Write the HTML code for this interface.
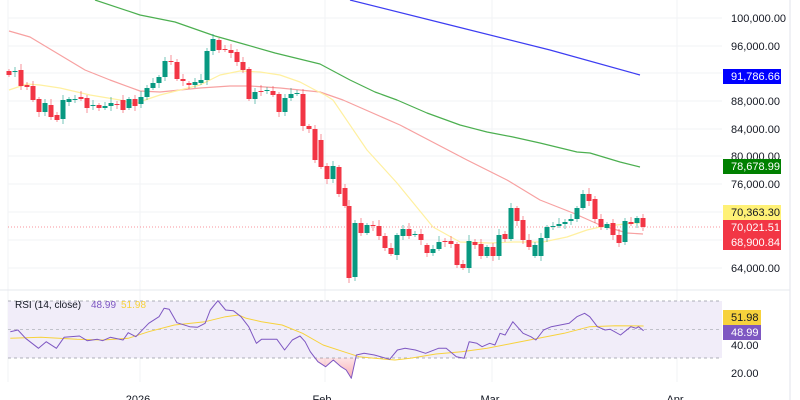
<!DOCTYPE html>
<html><head><meta charset="utf-8"><style>
html,body{margin:0;padding:0;background:#fff;width:800px;height:400px;overflow:hidden}
svg{display:block;font-family:"Liberation Sans",sans-serif}
</style></head><body>
<svg id="s" width="800" height="400" xmlns="http://www.w3.org/2000/svg"></svg>
<script>
const S=document.getElementById('s');let h='';
[18,46,73,101,129,156,184,212,240,268].forEach(y=>h+=`<line x1="8" y1="${y}" x2="722" y2="${y}" stroke="#f2f3f6"/>`);
[8,140,325,492,677].forEach(x=>h+=`<line x1="${x}" y1="0" x2="${x}" y2="382" stroke="#f2f3f6"/>`);
h+=`<line x1="790" y1="0" x2="790" y2="400" stroke="#e0e3eb"/>`;
h+=`<line x1="0" y1="290" x2="790" y2="290" stroke="#e6e8ee"/>`;
h+=`<rect x="8" y="301" width="714" height="57" fill="#f1edf9"/>`;
h+=`<line x1="8" y1="301" x2="722" y2="301" stroke="#9598a1" stroke-dasharray="3,3" stroke-width="0.8"/>`;
h+=`<line x1="8" y1="329.5" x2="722" y2="329.5" stroke="#b0b3bb" stroke-dasharray="3,3" stroke-width="0.8"/>`;
h+=`<line x1="8" y1="358" x2="722" y2="358" stroke="#9598a1" stroke-dasharray="3,3" stroke-width="0.8"/>`;
h+=`<line x1="8" y1="227" x2="722" y2="227" stroke="#f23645" stroke-dasharray="1,2" stroke-width="0.8" opacity="0.7"/>`;
function pl(pts,col,w){return `<polyline fill="none" stroke="${col}" stroke-width="${w||1.2}" stroke-linejoin="round" points="${pts.map(p=>p.join(',')).join(' ')}"/>`}
h+=pl([[350,0],[450,25],[550,50],[640,75]],'#3d3df2');
h+=pl([[95,0],[140,15],[175,22],[215,36],[240,43],[275,53],[320,64],[350,80],[375,92],[397,100],[427,113],[460,125],[487,132],[513,137],[540,143],[577,152],[590,153],[620,162],[640,167]],'#4caf50');
h+=pl([[9,31],[30,37],[60,55],[85,70],[110,80],[140,91],[160,92],[180,90],[200,88],[230,86],[250,86],[280,88],[300,90],[320,92],[343,100],[400,125],[467,160],[507,180],[540,200],[573,213],[600,225],[627,233],[643,234]],'#f7a1a1');
h+=pl([[9,90],[27,84],[40,85],[60,88],[90,95],[120,100],[135,104],[145,100],[160,95],[180,90],[200,85],[220,75],[240,71],[260,72],[280,75],[300,82],[315,90],[325,95],[333,100],[367,150],[397,183],[433,227],[460,242],[490,243],[513,242],[543,242],[567,237],[587,230],[600,227],[633,223],[640,223]],'#fff0a0');
const C=[[9,71,75],[15,72,71],[21,70,86],[27,85,87],[33,86,100],[39,99,112],[45,112,103],[51,105,117],[57,115,120],[63,119,100],[69,102,99],[75,100,99],[81,97,99],[87,98,108],[93,106,105],[99,105,108],[105,108,106],[111,106,103],[117,104,105],[123,100,110],[129,108,99],[135,99,106],[141,104,97],[147,97,88],[153,88,83],[159,83,77],[165,77,61],[171,61,62],[177,62,79],[183,79,81],[189,83,85],[195,85,82],[201,83,80],[207,80,51],[213,51,39],[219,40,50],[225,49,50],[231,50,53],[237,52,62],[243,62,70],[249,69,99],[255,99,92],[261,91,92],[267,91,90],[273,91,95],[279,94,112],[285,112,98],[291,98,94],[297,94,93],[303,94,126],[309,126,129],[315,129,160],[321,140,167],[327,166,179],[333,179,166],[339,167,194],[345,188,206],[349,206,278],[355,277,223],[361,223,233],[367,233,225],[373,225,226],[379,226,236],[385,236,248],[391,248,254],[397,255,235],[403,236,229],[409,229,236],[415,235,234],[421,234,240],[427,245,253],[433,253,249],[439,249,242],[445,241,242],[451,241,244],[457,244,265],[463,264,268],[469,268,241],[475,242,245],[481,244,256],[487,256,247],[493,247,256],[499,256,235],[505,234,239],[511,239,208],[517,208,221],[523,220,240],[529,240,247],[535,256,245],[541,256,238],[547,238,227],[553,227,226],[559,226,224],[565,224,222],[571,221,219],[577,219,208],[583,208,194],[589,194,201],[595,199,219],[601,219,227],[607,228,224],[613,223,235],[619,235,243],[625,242,221],[631,222,224],[637,223,218],[643,218,227]];
C.forEach((c,i)=>{const[x,o,cl]=c;const g=cl<o;const col=g?'#089981':'#f23645';const t=Math.min(o,cl),b=Math.max(o,cl);const wt=t-2-(i*7%5),wb=b+2+(i*3%4);
h+=`<line x1="${x}" y1="${wt}" x2="${x}" y2="${wb}" stroke="${col}" opacity="0.55"/>`;
h+=`<rect x="${x-2.5}" y="${t}" width="5" height="${Math.max(1,b-t)}" fill="${col}"/>`;});
const R=[[20,155],[35,150],[50,175],[75,205],[90,185],[110,205],[125,172],[155,168],[170,182],[190,178],[200,182],[215,172],[240,180],[250,158],[265,170],[290,130],[310,110],[320,85],[330,88],[345,128],[370,140],[385,142],[400,130],[410,90],[425,62],[440,90],[455,92],[470,110],[485,140],[500,190],[510,178],[540,178],[555,210],[570,180],[585,168],[595,185],[605,215],[620,245],[635,260],[650,240],[665,260],[675,270],[685,295],[695,225],[710,220],[730,225],[760,238],[775,210],[790,205],[810,210],[830,220],[855,205],[870,205],[890,230],[905,235],[915,185],[930,190],[940,200],[955,190],[965,195],[975,160],[985,165],[1000,125],[1020,160],[1035,170],[1045,180],[1060,150],[1075,140],[1110,130],[1125,110],[1140,100],[1150,110],[1165,140],[1180,150],[1190,148],[1210,165],[1230,140],[1240,145],[1245,140],[1255,152]].map(p=>[+(p[0]/1.95).toFixed(1),+(280+p[1]/3).toFixed(1)]);
const RM=[[20,175],[80,172],[150,178],[200,180],[250,175],[290,155],[340,135],[400,125],[440,110],[465,105],[480,115],[510,125],[550,135],[590,160],[630,195],[670,215],[700,230],[730,235],[770,240],[800,235],[850,222],[900,215],[950,205],[1000,190],[1050,175],[1100,160],[1150,140],[1200,137],[1255,138]].map(p=>[+(p[0]/1.95).toFixed(1),+(280+p[1]/3).toFixed(1)]);
h+=`<defs><clipPath id="cl"><rect x="0" y="358" width="800" height="40"/></clipPath><linearGradient id="gr" x1="0" y1="0" x2="0" y2="1"><stop offset="0" stop-color="#f23645" stop-opacity="0.05"/><stop offset="1" stop-color="#f23645" stop-opacity="0.4"/></linearGradient></defs>`;
const seg=R.filter(p=>p[0]>=310&&p[0]<=360);
h+=`<polygon clip-path="url(#cl)" fill="url(#gr)" points="310,358 ${seg.map(p=>p.join(',')).join(' ')} 360,358"/>`;
h+=pl(RM,'#f7d23c',1);
h+=pl(R,'#7e57c2',1);
function tx(x,y,t,c,s,a){return `<text x="${x}" y="${y}" fill="${c||'#131722'}" font-size="${s||11}" ${a?'text-anchor="'+a+'"':''}>${t}</text>`}
[[18,'100,000.00'],[46,'96,000.00'],[101,'88,000.00'],[129,'84,000.00'],[156,'80,000.00'],[184,'76,000.00'],[268,'64,000.00']].forEach(a=>h+=tx(731,a[0]+4,a[1]));
function box(y1,y2,bg,lines,fc){let r=`<rect x="723" y="${y1}" width="58" height="${y2-y1}" fill="${bg}"/>`;lines.forEach((l,i)=>r+=tx(731,y1+11+i*15,l,fc));return r;}
h+=box(69,84,'#0000ff',['91,786.66'],'#fff');
h+=box(159,174,'#008000',['78,678.99'],'#fff');
h+=box(205,220,'#fff176',['70,363.30'],'#131722');
h+=box(220,250,'#f23645',['70,021.51','68,900.84'],'#fff');
h+=`<rect x="723" y="310" width="38" height="15" fill="#f7d23c"/>`+tx(731,321,'51.98');
h+=`<rect x="723" y="325" width="38" height="15" fill="#7e57c2"/>`+tx(731,336,'48.99','#fff');
h+=tx(731,349,'40.00')+tx(731,377,'20.00');
h+=tx(15,308,'RSI (14, close)','#131722',10)+tx(91,308,'48.99','#7e57c2',10)+tx(121,308,'51.98','#f7d23c',10);
h+=tx(138,403,'2026','#131722',11,'middle')+tx(322,403,'Feb','#131722',11,'middle')+tx(490,403,'Mar','#131722',11,'middle')+tx(675,403,'Apr','#131722',11,'middle');
S.innerHTML=h;
</script>
</body></html>
